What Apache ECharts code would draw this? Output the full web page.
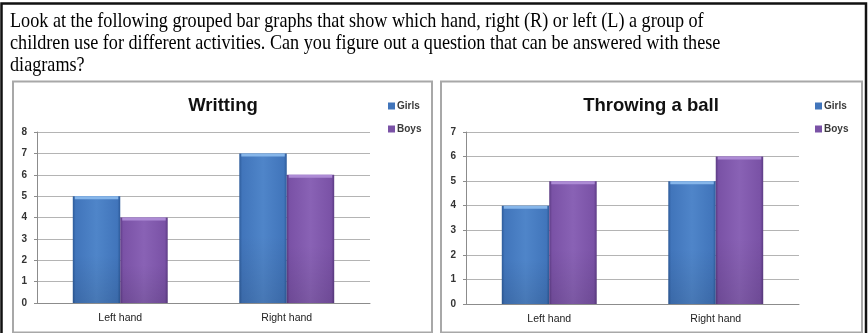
<!DOCTYPE html>
<html>
<head>
<meta charset="utf-8">
<script src="https://cdn.jsdelivr.net/npm/echarts@6/dist/echarts.min.js"></script>
<style>
  html, body { margin: 0; padding: 0; background: #fff; }
  #chart { width: 868px; height: 333px; }
</style>
</head>
<body>
<div id="chart"></div>
<script>
// Categories shared by both panels
const categories = ['Left hand', 'Right hand'];
const seriesNames = ['Girls', 'Boys'];

// Writing panel values
const writingGirls = [5, 7];
const writingBoys = [4, 6];

// Throwing panel values
const throwingGirls = [4, 5];
const throwingBoys = [5, 6];

// Axis ticks
const writingTicks = [0, 1, 2, 3, 4, 5, 6, 7, 8];
const throwingTicks = [0, 1, 2, 3, 4, 5, 6, 7];

const questionLines = [
  'Look at the following grouped bar graphs that show which hand, right (R) or left (L) a group of',
  'children use for different activities. Can you figure out a question that can be answered with these',
  'diagrams?'
];

const palette = {
  Girls: { base: '#4175bb', edge: '#2d5b9a', light: '#4f85c9', cap: '#86b6ea' },
  Boys:  { base: '#7a52a6', edge: '#5c3b84', light: '#8962b5', cap: '#ad8bd5' }
};

const chart = echarts.init(document.getElementById('chart'), null, { renderer: 'canvas' });

// Bevelled bar drawn through the axis scales; side -1 = left of category centre, +1 = right
function bevelBar(side, pal) {
  return function (params, api) {
    const cat = api.value(0);
    const val = api.value(1);
    const topPt = api.coord([cat, val]);
    const basePt = api.coord([cat, 0]);
    const catW = api.size([1, 0])[0];
    const w = catW * 0.285;
    const x = side < 0 ? topPt[0] - w : topPt[0];
    const y = topPt[1];
    const h = basePt[1] - y;
    return {
      type: 'group',
      children: [
        {
          type: 'rect',
          shape: { x: x, y: y, width: w, height: h },
          style: {
            fill: new echarts.graphic.LinearGradient(0, 0, 1, 0, [
              { offset: 0, color: pal.edge },
              { offset: 0.06, color: pal.base },
              { offset: 0.5, color: pal.light },
              { offset: 0.94, color: pal.base },
              { offset: 1, color: pal.edge }
            ])
          }
        },
        {
          type: 'rect',
          shape: { x: x, y: y + h * 0.55, width: w, height: h * 0.45 },
          style: {
            fill: new echarts.graphic.LinearGradient(0, 0, 0, 1, [
              { offset: 0, color: 'rgba(0,0,0,0)' },
              { offset: 1, color: 'rgba(0,0,0,0.10)' }
            ])
          }
        },
        {
          type: 'rect',
          shape: { x: x + 2, y: y, width: w - 4, height: Math.min(3, h) },
          style: { fill: pal.cap }
        }
      ]
    };
  };
}

function pairs(values) {
  return values.map(function (v, i) { return [i, v]; });
}

const axisLabelFont = { fontFamily: 'Liberation Sans', fontSize: 10, fontWeight: 'bold', color: '#333' };

// Text of the question above the charts (slightly condensed serif)
const textGraphics = questionLines.map(function (line, i) {
  return {
    type: 'text',
    x: 10,
    y: 11 + i * 22,
    scaleX: 0.865,
    style: {
      text: line,
      font: '21px "Liberation Serif"',
      fill: '#000'
    }
  };
});

const legendBase = {
  data: seriesNames, top: 96, orient: 'vertical', itemGap: 13,
  icon: 'rect', itemWidth: 7, itemHeight: 7,
  textStyle: { fontFamily: 'Liberation Sans', fontSize: 10, fontWeight: 'bold', color: '#3a3a3a', padding: [0, 0, 0, -3] }
};

const option = {
  animation: false,
  graphic: [
    // outer frame
    { type: 'rect', shape: { x: 1.5, y: 3.5, width: 864.5, height: 340 }, style: { fill: 'none', stroke: '#111', lineWidth: 2.5 }, z: 100 },
    // chart panels
    { type: 'rect', shape: { x: 13, y: 81.5, width: 419, height: 251 }, style: { fill: '#fff', stroke: '#a8a8a8', lineWidth: 2 }, z: -10 },
    { type: 'rect', shape: { x: 441, y: 81.5, width: 421, height: 251 }, style: { fill: '#fff', stroke: '#a8a8a8', lineWidth: 2 }, z: -10 }
  ].concat(textGraphics),
  title: [
    {
      text: 'Writting', left: 218, top: 91, textAlign: 'center',
      textStyle: { fontFamily: 'Liberation Sans', fontSize: 18.5, fontWeight: 'bold', color: '#111' }
    },
    {
      text: 'Throwing a ball', left: 646, top: 91, textAlign: 'center',
      textStyle: { fontFamily: 'Liberation Sans', fontSize: 18.5, fontWeight: 'bold', color: '#111' }
    }
  ],
  legend: [
    Object.assign({ left: 383 }, legendBase),
    Object.assign({ left: 810 }, legendBase)
  ],
  grid: [
    { left: 37, top: 132, width: 333, height: 171 },
    { left: 466, top: 132, width: 333, height: 172 }
  ],
  xAxis: [0, 1].map(function (g) {
    return {
      type: 'category', gridIndex: g, data: categories,
      axisLine: { lineStyle: { color: '#8c8c8c', width: 1 } },
      axisTick: { show: false },
      axisLabel: Object.assign({ margin: 10 }, axisLabelFont, { fontWeight: 'normal', color: '#222', fontSize: 10.5 })
    };
  }),
  yAxis: [
    { ticks: writingTicks, g: 0 },
    { ticks: throwingTicks, g: 1 }
  ].map(function (a) {
    return {
      type: 'value', gridIndex: a.g,
      min: a.ticks[0], max: a.ticks[a.ticks.length - 1], interval: 1,
      axisLine: { show: true, lineStyle: { color: '#8c8c8c', width: 1 } },
      axisTick: { show: true, length: 3, lineStyle: { color: '#8c8c8c' } },
      splitLine: { lineStyle: { color: '#b4b4b4', width: 1.2 } },
      axisLabel: Object.assign({ margin: 10 }, axisLabelFont)
    };
  }),
  series: [
    { name: 'Girls', values: writingGirls, g: 0, side: -1 },
    { name: 'Boys', values: writingBoys, g: 0, side: 1 },
    { name: 'Girls', values: throwingGirls, g: 1, side: -1 },
    { name: 'Boys', values: throwingBoys, g: 1, side: 1 }
  ].map(function (s) {
    return {
      type: 'custom', name: s.name,
      xAxisIndex: s.g, yAxisIndex: s.g,
      itemStyle: { color: palette[s.name].base },
      encode: { x: 0, y: 1 },
      data: pairs(s.values),
      renderItem: bevelBar(s.side, palette[s.name])
    };
  })
};

chart.setOption(option);
</script>
</body>
</html>
